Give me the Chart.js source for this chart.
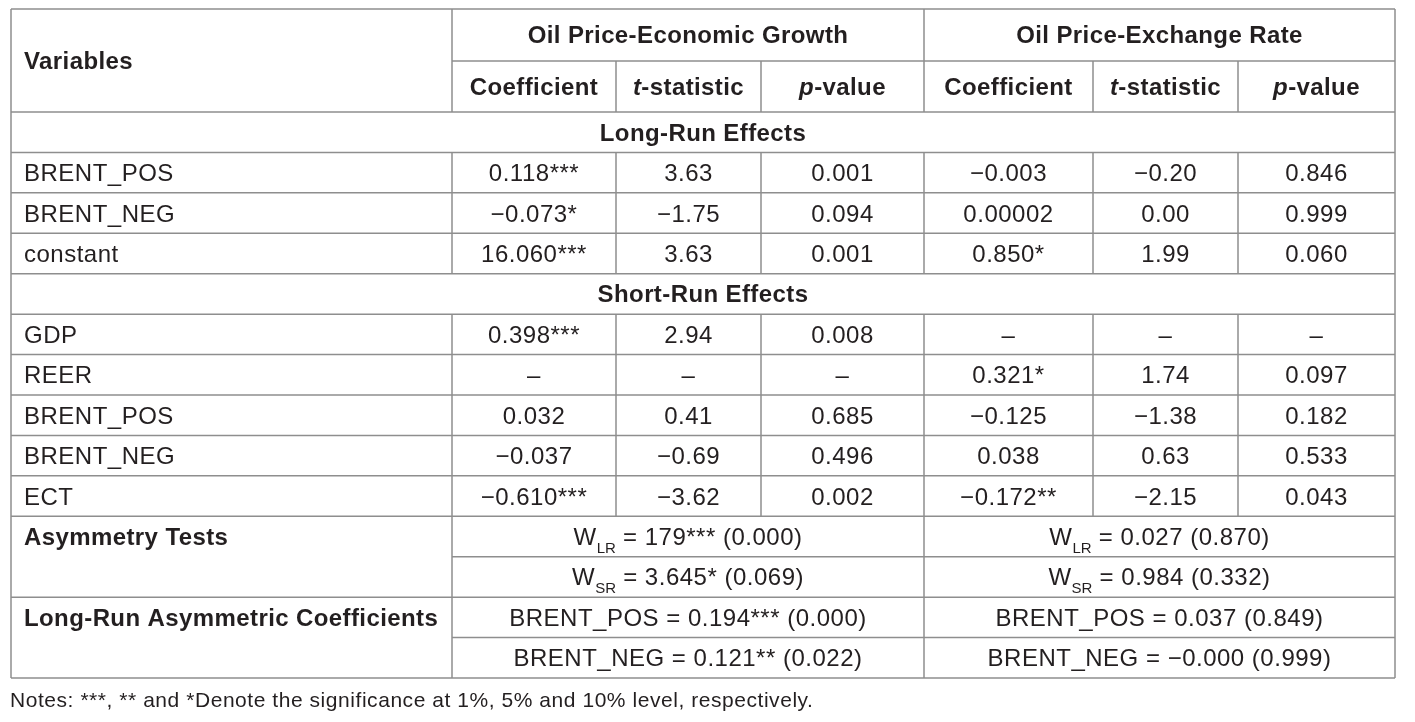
<!DOCTYPE html>
<html>
<head>
<meta charset="utf-8">
<script src="https://cdn.jsdelivr.net/npm/chart.js@4.4.1/dist/chart.umd.min.js"></script>
<style>
  body{margin:0;background:#fff;}
  .wrap{width:1415px;height:722px;position:relative;}
</style>
</head>
<body>
<div class="wrap"><canvas id="tbl"></canvas></div>
<script>
// ---- table data ----
const groupTitles = ['Oil Price-Economic Growth', 'Oil Price-Exchange Rate'];
const sectionTitles = ['Long-Run Effects', 'Short-Run Effects'];

const longRunVars = ['BRENT_POS', 'BRENT_NEG', 'constant'];
const lrGrowthCoef = ['0.118***', '\u22120.073*', '16.060***'];
const lrGrowthT = ['3.63', '\u22121.75', '3.63'];
const lrGrowthP = ['0.001', '0.094', '0.001'];
const lrRateCoef = ['\u22120.003', '0.00002', '0.850*'];
const lrRateT = ['\u22120.20', '0.00', '1.99'];
const lrRateP = ['0.846', '0.999', '0.060'];

const shortRunVars = ['GDP', 'REER', 'BRENT_POS', 'BRENT_NEG', 'ECT'];
const srGrowthCoef = ['0.398***', '\u2013', '0.032', '\u22120.037', '\u22120.610***'];
const srGrowthT = ['2.94', '\u2013', '0.41', '\u22120.69', '\u22123.62'];
const srGrowthP = ['0.008', '\u2013', '0.685', '0.496', '0.002'];
const srRateCoef = ['\u2013', '0.321*', '\u22120.125', '0.038', '\u22120.172**'];
const srRateT = ['\u2013', '1.74', '\u22121.38', '0.63', '\u22122.15'];
const srRateP = ['\u2013', '0.097', '0.182', '0.533', '0.043'];

const waldSubs = ['LR', 'SR'];
const waldGrowth = ['179*** (0.000)', '3.645* (0.069)'];
const waldRate = ['0.027 (0.870)', '0.984 (0.332)'];

const asymVars = ['BRENT_POS', 'BRENT_NEG'];
const asymGrowth = ['0.194*** (0.000)', '0.121** (0.022)'];
const asymRate = ['0.037 (0.849)', '\u22120.000 (0.999)'];

const notesText = 'Notes: ***, ** and *Denote the significance at 1%, 5% and 10% level, respectively.';

// ---- layout (scale units) ----
const colEdges = [0, 441, 605, 750, 913, 1082, 1227, 1384];
const rowH = 40.43;
const rowEdges = [0, 52, 103];
for (let k = 1; k <= 14; k++) rowEdges.push(103 + k * rowH);

const FONT = '"Liberation Sans", Arial, sans-serif';
const reg = '24px ' + FONT;
const bold = 'bold 24px ' + FONT;
const boldIt = 'italic bold 24px ' + FONT;
const subFont = '15px ' + FONT;
const textColor = '#231f20';
const lineColor = '#8e8e8e';

function runsWidth(ctx, runs) {
  let w = 0;
  runs.forEach(r => { ctx.font = r.font; ctx.letterSpacing = r.ls || '0.5px'; w += ctx.measureText(r.t).width; });
  return w;
}
function drawRuns(ctx, runs, x, base, align) {
  let cx = align === 'center' ? x - runsWidth(ctx, runs) / 2 : x;
  runs.forEach(r => {
    ctx.font = r.font;
    ctx.letterSpacing = r.ls || '0.5px';
    ctx.fillText(r.t, cx, base + (r.dy || 0));
    cx += ctx.measureText(r.t).width;
  });
}
const B = t => ({t: t, font: bold, ls: '0.4px'});
const BI = t => ({t: t, font: boldIt, ls: '0.4px'});
const R = t => ({t: t, font: reg});

const tablePlugin = {
  id: 'tablePlugin',
  afterDatasetsDraw(chart) {
    const ctx = chart.ctx;
    const xs = chart.scales.x, ys = chart.scales.y;
    const X = c => xs.getPixelForValue(colEdges[c]);
    const Y = r => ys.getPixelForValue(rowEdges[r]);
    const midX = (a, b) => (X(a) + X(b)) / 2;
    const base = (a, b) => (Y(a) + Y(b)) / 2 + 8.5;

    ctx.save();
    ctx.strokeStyle = lineColor;
    ctx.lineWidth = 1.5;
    const hl = (r, c0, c1) => { ctx.beginPath(); ctx.moveTo(X(c0), Y(r)); ctx.lineTo(X(c1), Y(r)); ctx.stroke(); };
    const vl = (c, r0, r1) => { ctx.beginPath(); ctx.moveTo(X(c), Y(r0)); ctx.lineTo(X(c), Y(r1)); ctx.stroke(); };

    // horizontal rules (sub-rows inside merged label cells only span the data columns)
    for (let r = 0; r < rowEdges.length; r++) {
      if (r === 1 || r === 13 || r === 15) hl(r, 1, 7);
      else hl(r, 0, 7);
    }
    // vertical rules
    vl(0, 0, 16); vl(7, 0, 16);
    [[0, 2], [3, 6], [7, 16]].forEach(s => vl(1, s[0], s[1]));
    [2, 3, 5, 6].forEach(c => { vl(c, 1, 2); vl(c, 3, 6); vl(c, 7, 12); });
    [[0, 2], [3, 6], [7, 16]].forEach(s => vl(4, s[0], s[1]));

    ctx.fillStyle = textColor;
    ctx.textBaseline = 'alphabetic';
    ctx.textAlign = 'left';
    const lx = X(0) + 13;

    // header
    drawRuns(ctx, [B('Variables')], lx, base(0, 2), 'left');
    drawRuns(ctx, [B(groupTitles[0])], midX(1, 4), base(0, 1), 'center');
    drawRuns(ctx, [B(groupTitles[1])], midX(4, 7), base(0, 1), 'center');
    [1, 4].forEach(c => {
      drawRuns(ctx, [B('Coefficient')], midX(c, c + 1), base(1, 2), 'center');
      drawRuns(ctx, [BI('t'), B('-statistic')], midX(c + 1, c + 2), base(1, 2), 'center');
      drawRuns(ctx, [BI('p'), B('-value')], midX(c + 2, c + 3), base(1, 2), 'center');
    });

    // section rows
    drawRuns(ctx, [B(sectionTitles[0])], midX(0, 7), base(2, 3), 'center');
    drawRuns(ctx, [B(sectionTitles[1])], midX(0, 7), base(6, 7), 'center');

    const block = (startRow, vars, cols) => {
      vars.forEach((v, i) => {
        const r = startRow + i;
        drawRuns(ctx, [R(v)], lx, base(r, r + 1), 'left');
        cols.forEach((arr, j) => {
          drawRuns(ctx, [R(arr[i])], midX(j + 1, j + 2), base(r, r + 1), 'center');
        });
      });
    };
    block(3, longRunVars, [lrGrowthCoef, lrGrowthT, lrGrowthP, lrRateCoef, lrRateT, lrRateP]);
    block(7, shortRunVars, [srGrowthCoef, srGrowthT, srGrowthP, srRateCoef, srRateT, srRateP]);

    // asymmetry tests
    drawRuns(ctx, [B('Asymmetry Tests')], lx, base(12, 13), 'left');
    waldSubs.forEach((s, i) => {
      const r = 12 + i;
      const sub = {t: s, font: subFont, dy: 8, ls: '0px'};
      drawRuns(ctx, [R('W'), sub, R(' = ' + waldGrowth[i])], midX(1, 4), base(r, r + 1), 'center');
      drawRuns(ctx, [R('W'), sub, R(' = ' + waldRate[i])], midX(4, 7), base(r, r + 1), 'center');
    });

    drawRuns(ctx, [B('Long-Run Asymmetric Coefficients')], lx, base(14, 15), 'left');
    asymVars.forEach((v, i) => {
      const r = 14 + i;
      drawRuns(ctx, [R(v + ' = ' + asymGrowth[i])], midX(1, 4), base(r, r + 1), 'center');
      drawRuns(ctx, [R(v + ' = ' + asymRate[i])], midX(4, 7), base(r, r + 1), 'center');
    });

    // notes
    drawRuns(ctx, [{t: notesText, font: '21px ' + FONT, ls: '0.55px'}], X(0) - 1, Y(16) + 29, 'left');
    ctx.restore();
  }
};

new Chart(document.getElementById('tbl'), {
  type: 'scatter',
  data: { datasets: [{ data: [], pointRadius: 0 }] },
  options: {
    responsive: true,
    maintainAspectRatio: false,
    animation: false,
    layout: { padding: { left: 11, top: 9, right: 20, bottom: 44 } },
    plugins: { legend: { display: false }, tooltip: { enabled: false } },
    scales: {
      x: { type: 'linear', min: 0, max: colEdges[colEdges.length - 1], display: false },
      y: { type: 'linear', min: 0, max: rowEdges[rowEdges.length - 1], reverse: true, display: false }
    }
  },
  plugins: [tablePlugin]
});
</script>
</body>
</html>
